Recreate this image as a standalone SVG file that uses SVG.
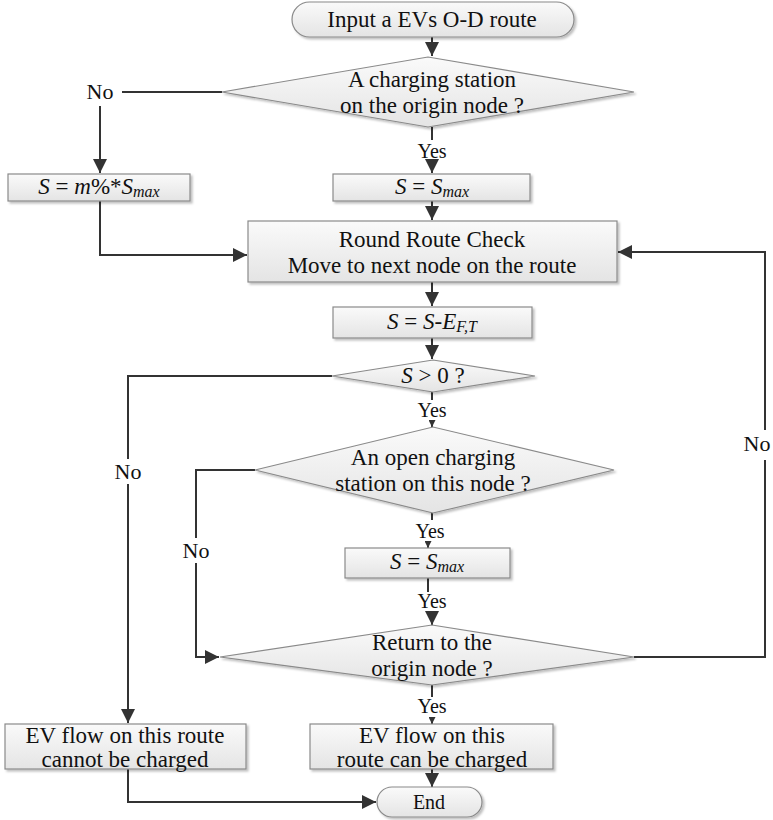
<svg xmlns="http://www.w3.org/2000/svg" width="773" height="820" viewBox="0 0 773 820">
<defs>
<linearGradient id="g" x1="0" y1="0" x2="0" y2="1">
<stop offset="0" stop-color="#fafafa"/>
<stop offset="1" stop-color="#e4e4e4"/>
</linearGradient>
<filter id="sh" x="-10%" y="-10%" width="130%" height="140%">
<feDropShadow dx="2" dy="2" stdDeviation="1.2" flood-color="#000" flood-opacity="0.25"/>
</filter>
<marker id="ah" viewBox="0 0 10 10" refX="10" refY="5" markerWidth="7" markerHeight="7" markerUnits="userSpaceOnUse" orient="auto">
<path d="M0,0 L10,5 L0,10 z" fill="#333"/>
</marker>
<marker id="am" viewBox="0 0 10 10" refX="10" refY="5" markerWidth="14" markerHeight="14" markerUnits="userSpaceOnUse" orient="auto">
<path d="M0,0 L10,5 L0,10 z" fill="#333"/>
</marker>
</defs>
<style>
.n{fill:url(#g);stroke:#8a8a8a;stroke-width:1.2;filter:url(#sh)}
text{fill:#111;text-anchor:middle}
.t{font-size:23px}
.m{font-size:23px}
.y{font-size:20px}
.no{font-size:22px}
.i{font-style:italic}
.s{font-size:16px}
.c{fill:none;stroke:#333;stroke-width:2}
</style>
<g id="connectors">
<path class="c" d="M432,37 V56" marker-end="url(#am)"/>
<path class="c" d="M222,92 H122"/>
<path class="c" d="M100,106 V173" marker-end="url(#am)"/>
<path class="c" d="M432,127 V140"/>
<path class="c" d="M432,161 V173" marker-end="url(#am)"/>
<path class="c" d="M100,201 V255 H247" marker-end="url(#am)"/>
<path class="c" d="M432,201 V220" marker-end="url(#am)"/>
<path class="c" d="M432,282 V306" marker-end="url(#am)"/>
<path class="c" d="M432,338 V359" marker-end="url(#am)"/>
<path class="c" d="M332,376 H128 V459"/>
<path class="c" d="M128,484 V723" marker-end="url(#am)"/>
<path class="c" d="M432,392 V400"/>
<path class="c" d="M432,421 V427" marker-end="url(#ah)"/>
<path class="c" d="M255,470 H196 V538"/>
<path class="c" d="M196,563 V657 H219" marker-end="url(#am)"/>
<path class="c" d="M432,513 V520"/>
<path class="c" d="M428,543 V548" marker-end="url(#ah)"/>
<path class="c" d="M428,578 V592"/>
<path class="c" d="M432,614 V625" marker-end="url(#am)"/>
<path class="c" d="M634,657 H765 V460"/>
<path class="c" d="M765,430 V252 H618" marker-end="url(#am)"/>
<path class="c" d="M432,685 V697"/>
<path class="c" d="M432,718 V724" marker-end="url(#ah)"/>
<path class="c" d="M128,769 V802 H376" marker-end="url(#am)"/>
<path class="c" d="M432,769 V787" marker-end="url(#am)"/>
</g>
<g font-family="Liberation Serif, Times New Roman, serif">
<g id="start">
<rect class="n" x="292" y="2" width="282" height="35" rx="17.5"/>
<text class="t" x="432" y="27">Input a EVs O-D route</text>
</g>
<g id="d1">
<polygon class="n" points="222,92 428,57 634,92 428,127"/>
<text class="t" x="432" y="87">A charging station</text>
<text class="t" x="432" y="113">on the origin node ?</text>
</g>
<g id="lab1"><text class="no" x="100" y="99">No</text><text class="y" x="432" y="158">Yes</text></g>
<g id="b1">
<rect class="n" x="8" y="174" width="182" height="27"/>
<text class="m" x="99" y="194"><tspan class="i">S</tspan> = <tspan class="i">m</tspan>%*<tspan class="i">S</tspan><tspan class="i s" dy="3">max</tspan></text>
</g>
<g id="b2">
<rect class="n" x="333" y="174" width="197" height="27"/>
<text class="m" x="432" y="194"><tspan class="i">S</tspan> = <tspan class="i">S</tspan><tspan class="i s" dy="3">max</tspan></text>
</g>
<g id="b3">
<rect class="n" x="248" y="221" width="369" height="61"/>
<text class="t" x="432" y="247">Round Route Check</text>
<text class="t" x="432" y="273">Move to next node on the route</text>
</g>
<g id="b4">
<rect class="n" x="333" y="307" width="199" height="31"/>
<text class="m" x="432" y="329"><tspan class="i">S</tspan> = <tspan class="i">S</tspan>-<tspan class="i">E</tspan><tspan class="i s" dy="3">F,T</tspan></text>
</g>
<g id="d2">
<polygon class="n" points="332,376 433,360 535,376 433,392"/>
<text class="m" x="433" y="383"><tspan class="i">S</tspan> &gt; 0 ?</text>
</g>
<g id="lab2"><text class="no" x="128" y="479">No</text><text class="y" x="432" y="417">Yes</text></g>
<g id="d3">
<polygon class="n" points="255,470 433,427 614,470 433,513"/>
<text class="t" x="433" y="465">An open charging</text>
<text class="t" x="433" y="491">station on this node ?</text>
</g>
<g id="lab3"><text class="no" x="196" y="558">No</text><text class="y" x="430" y="538">Yes</text><text class="y" x="432" y="608">Yes</text><text class="no" x="757" y="451">No</text></g>
<g id="b5">
<rect class="n" x="345" y="548" width="165" height="30"/>
<text class="m" x="427" y="569"><tspan class="i">S</tspan> = <tspan class="i">S</tspan><tspan class="i s" dy="3">max</tspan></text>
</g>
<g id="d4">
<polygon class="n" points="220,657 432,625 634,657 432,685"/>
<text class="t" x="432" y="650">Return to the</text>
<text class="t" x="432" y="676">origin node  ?</text>
</g>
<g id="lab4"><text class="y" x="432" y="713">Yes</text></g>
<g id="b6">
<rect class="n" x="5" y="724" width="241" height="45"/>
<text class="t" x="125" y="743">EV flow on this route</text>
<text class="t" x="125" y="767">cannot be charged</text>
</g>
<g id="b7">
<rect class="n" x="310" y="724" width="243" height="45"/>
<text class="t" x="432" y="743">EV flow on this</text>
<text class="t" x="432" y="767">route can be charged</text>
</g>
<g id="end">
<rect class="n" x="377" y="787" width="105" height="30" rx="15"/>
<text class="y" x="429" y="809">End</text>
</g>
</g>
</svg>
